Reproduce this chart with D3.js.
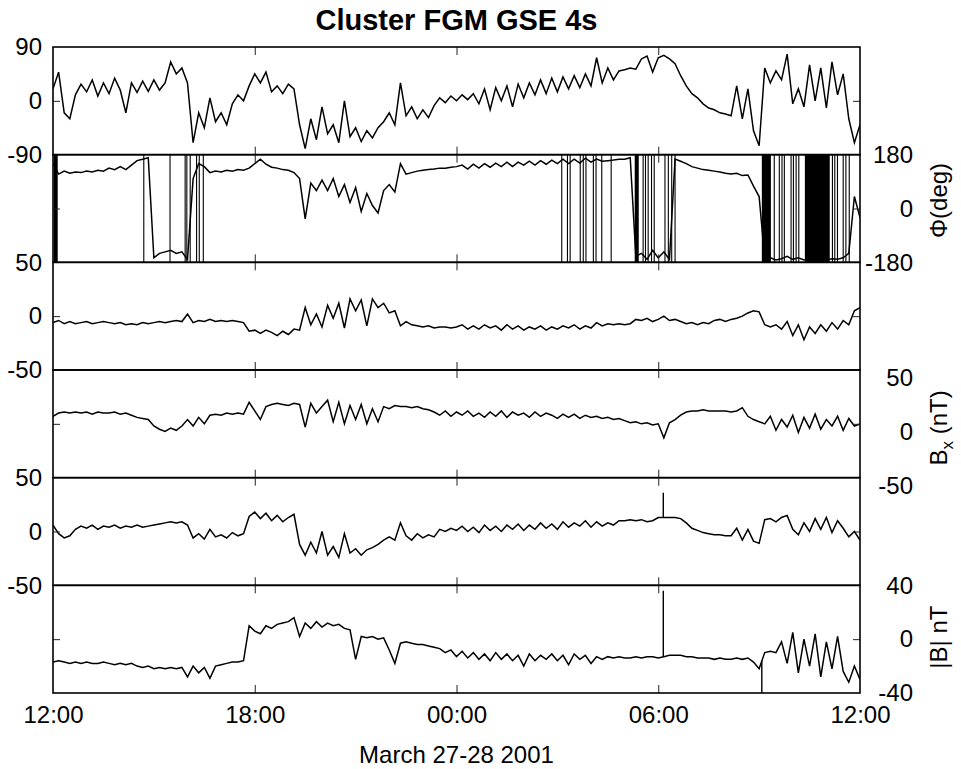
<!DOCTYPE html>
<html>
<head>
<meta charset="utf-8">
<script src="https://cdnjs.cloudflare.com/ajax/libs/d3/7.8.5/d3.min.js"></script>
<style>
  body { margin: 0; background: #fff; }
  svg text { font-family: "Liberation Sans", Arial, Helvetica, sans-serif; fill: #000; }
</style>
</head>
<body>
<svg id="chart" width="961" height="769"></svg>
<script>
// Hours after 12:00 on March 27, one sample every 10 minutes (145 samples)
var step = 1 / 6;

var hourTicks = [0, 6, 12, 18, 24];
var hourLabels = ["12:00", "18:00", "00:00", "06:00", "12:00"];

// Theta (deg)
var theta = [20, 48, -20, -30, 10, 28, 15, 35, 8, 30,
  12, 38, 18, -20, 30, 14, 33, 16, 35, 18,
  30, 65, 45, 55, 30, -70, -20, -45, 5, -35,
  -20, -40, -5, 10, 0, 25, 45, 30, 48, 15,
  25, 12, 28, 20, -40, -80, -30, -65, -10, -55,
  -40, -70, 0, -60, -45, -68, -50, -62, -45, -35,
  -20, -40, 30, -25, -10, -30, -15, -28, -8, 5,
  -3, 8, 0, 10, 2, 12, -5, 20, -15, 22,
  0, 25, -10, 28, 5, 30, 10, 35, 12, 38,
  15, 40, 20, 42, 22, 45, 25, 72, 30, 55,
  35, 50, 52, 55, 53, 70, 75, 48, 72, 76,
  70, 62, 42, 25, 12, 5, -5, -12, -15, -20,
  -22, -25, 25, -30, 20, -50, -75, 55, 30, 50,
  35, 78, -5, 20, -10, 60, 0, 55, -12, 65,
  10, 45, -30, -70, -40];

// Phi (deg)
var phi = [150, 115, 125, 118, 122, 120, 125, 122, 128, 125,
  135, 130, 140, 130, 145, 160, 165, 170, -165, -150,
  -145, -140, -150, -145, -170, 100, 150, 140, 120, 125,
  122, 128, 125, 130, 128, 135, 150, 165, 148, 138,
  135, 130, 128, 120, 100, -35, 85, 60, 95, 60,
  100, 40, 80, 20, 70, -10, 50, 10, -15, 60,
  80, 55, 150, 115, 120, 125, 128, 130, 132, 135,
  135, 138, 140, 145, 132, 148, 135, 150, 138, 152,
  140, 155, 140, 155, 145, 158, 145, 160, 148, 162,
  150, 165, 150, 165, 152, 168, 155, 165, 158, 160,
  162, 165, 165, 170, -160, -150, -170, -140, -165, -145,
  -170, 165, 158, 150, 140, 135, 130, 128, 125, 122,
  118, 115, 118, 110, 112, 75, 40, -170, -165, -172,
  -168, -160, -170, -165, -172, -168, -170, -165, -172, -168,
  -170, -165, -150, 40, -30];
// Phi jumps between +180 and -180 (hours)
var phiWraps = [2.70, 3.48, 3.93, 3.98, 4.08, 4.27, 4.35, 4.47,
  15.13, 15.3, 15.38, 15.68, 15.77, 15.85, 16.07, 16.15, 16.32, 16.6,
  17.55, 17.62, 17.7, 17.8, 17.88, 18.2, 18.3, 18.4, 18.5,
  21.45, 21.6, 21.68, 21.75, 21.95, 22.02, 22.1, 22.18,
  23.18, 23.25, 23.33, 23.5, 23.58, 23.68];
var phiWrapBands = [[0.02, 0.14], [17.3, 17.42], [21.08, 21.35], [22.36, 23.1]];

// Field components (nT)
var bx = [-6, -4, -7, -5, -7, -6, -5, -7, -6, -5,
  -6, -7, -6, -8, -7, -8, -6, -7, -6, -5,
  -6, -5, -4, -5, 2, -6, -4, -5, -3, -5,
  -4, -5, -4, -5, -6, -14, -13, -16, -13, -15,
  -18, -14, -17, -12, -13, 8, -8, 2, -10, 10,
  -2, 12, -11, 16, 5, 15, -9, 16, 8, 12,
  3, 5, -9, -5, -8, -9, -10, -9, -11, -10,
  -10, -11, -10, -8, -12, -9, -12, -8, -11, -9,
  -13, -8, -12, -9, -13, -10, -12, -9, -13, -10,
  -12, -9, -11, -8, -12, -9, -11, -6, -9, -7,
  -8, -7, -8, -7, -3, -4, -2, -5, -3, 0,
  -4, -3, -5, -7, -6, -8, -6, -7, -4, -3,
  -5, -3, -2, 0, 3, 5, 4, -8, -10, -8,
  -12, -5, -18, -8, -22, -10, -16, -8, -14, -6,
  -12, -4, -8, 5, 8];

var by = [7, 10, 11, 10, 11, 10, 11, 9, 11, 10,
  10, 11, 9, 10, 8, 6, 5, 4, -2, -5,
  -7, -4, -6, -2, 4, -2, 6, 0, 8, 9,
  8, 10, 9, 10, 9, 20, 12, 4, 16, 18,
  19, 18, 17, 19, 18, -3, 19, 10, 16, 22,
  2, 20, 0, 17, 4, 18, 0, 14, 2, 16,
  14, 17, 16, 16, 15, 16, 14, 13, 11, 8,
  12, 7, 11, 8, 12, 7, 10, 6, 11, 7,
  12, 6, 11, 8, 10, 6, 11, 7, 10, 8,
  5, 9, 6, 9, 5, 8, 6, 7, 5, 6,
  4, 5, 3, 1, 2, 0, 1, -1, 0, -13,
  1, 4, 8, 11, 12, 12, 13, 12, 12, 12,
  12, 11, 12, 15, 7, 4, 2, 0, 7, -6,
  4, -3, 8, -8, 6, -4, 9, -5, 4, -2,
  7, -6, 5, -2, 0];

var bz = [6, -2, -6, -4, 2, 5, 3, 6, 2, 5,
  4, 6, 3, 5, 4, 6, 4, 5, 6, 7,
  8, 9, 8, 9, 6, -6, -2, -7, 2, -5,
  -3, -6, -1, -4, -2, 14, 18, 12, 17, 10,
  15, 9, 13, 16, -12, -22, -10, -20, 0, -22,
  -14, -24, -2, -20, -16, -22, -17, -15, -12, -8,
  -5, -8, 8, -4, -8, -2, -6, -3, -5, 2,
  0, 3, 1, 5, 0, 4, -1, 6, 1, 5,
  0, 6, 2, 7, 1, 6, 2, 8, 3, 7,
  2, 9, 4, 8, 5, 10, 4, 9, 5, 8,
  6, 10, 10, 11, 10, 11, 9, 10, 13, 13,
  13, 13, 12, 8, 3, 1, -1, -2, -3, -3,
  -4, -4, 3, -8, 2, -9, -11, 11, 12, 9,
  13, 15, 2, -3, 8, 0, 12, 2, 13, -1,
  10, 3, -5, 0, -8];

var btot = [-17, -16, -17, -18, -17, -18, -17, -18, -18, -17,
  -18, -19, -18, -19, -18, -20, -21, -20, -22, -21,
  -22, -21, -22, -21, -28, -20, -25, -21, -29, -20,
  -19, -18, -17, -17, -16, 10, 6, 4, 10, 8,
  11, 12, 13, 16, 2, 12, 8, 13, 9, 12,
  10, 11, 8, 7, -15, 2, 1, 2, 0, 1,
  -8, -18, -3, -2, -3, -4, -4, -5, -6, -7,
  -10, -8, -13, -9, -14, -10, -15, -11, -16, -10,
  -15, -11, -16, -12, -20, -11, -16, -12, -15, -11,
  -16, -12, -19, -11, -15, -12, -18, -13, -15, -13,
  -14, -13, -14, -14, -13, -14, -13, -13, -14, -13,
  -12, -12, -12, -13, -13, -14, -14, -14, -15, -14,
  -15, -15, -14, -15, -14, -17, -22, -10, -9, -10,
  -2, -18, 5, -25, 0, -20, 4, -28, -2, -22,
  2, -24, -32, -20, -30];

// Narrow spikes: [hour, from, to]
var bzSpikes = [[18.15, 13, 36]];
var btotSpikes = [[18.15, -13, 36], [21.08, -16, -40]];

// Panel setup (top to bottom)
var panels = [
  { series: theta, domain: [-90, 90], left: [-90, 0, 90], right: null, spikes: [] },
  { series: phi, domain: [-180, 180], left: null, right: [-180, 0, 180], spikes: [],
    title: "Φ(deg)", titleShift: -8 },
  { series: bx, domain: [-50, 50], left: [-50, 0, 50], right: null, spikes: [] },
  { series: by, domain: [-50, 50], left: null, right: [-50, 0, 50], spikes: [],
    title: "Bx (nT)", titleShift: 4, labelShift: 8 },
  { series: bz, domain: [-50, 50], left: [-50, 0, 50], right: null, spikes: bzSpikes },
  { series: btot, domain: [-40, 40], left: null, right: [-40, 0, 40], spikes: btotSpikes,
    title: "|B| nT", titleShift: -2 }
];

var margin = { left: 53, right: 101, top: 47, bottom: 76 };
var width = 961 - margin.left - margin.right;
var plotTop = margin.top, plotBottom = 769 - margin.bottom;
var panelH = (plotBottom - plotTop) / panels.length;
var fontSize = 24;
// plain hyphen for negative numbers, as in the original plot
var numFormat = function(d) { return String(d); };

var svg = d3.select('#chart');
var x = d3.scaleLinear().domain([0, 24]).range([margin.left, margin.left + width]);

function styleAxis(a) {
  a.select('.domain').remove();
  a.attr('font-size', fontSize).attr('font-family', '"Liberation Sans", Arial, sans-serif');
  a.selectAll('.tick line').attr('stroke', '#222').attr('stroke-width', 1);
}

panels.forEach(function(p, i) {
  var top = plotTop + i * panelH;
  var y = d3.scaleLinear().domain(p.domain).range([top + panelH, top]);
  var g = svg.append('g').attr('class', 'panel');

  svg.append('clipPath').attr('id', 'clip' + i).append('rect')
    .attr('x', x(0)).attr('y', top).attr('width', x(24) - x(0)).attr('height', panelH);
  var plot = g.append('g').attr('clip-path', 'url(#clip' + i + ')');

  // Phi wrap-around lines
  if (p.series === phi) {
    plot.selectAll('rect.wrapband').data(phiWrapBands).enter().append('rect')
      .attr('class', 'wrapband')
      .attr('x', function(d) { return x(d[0]); })
      .attr('width', function(d) { return x(d[1]) - x(d[0]); })
      .attr('y', y(180)).attr('height', y(-180) - y(180))
      .attr('fill', '#000');
    plot.selectAll('line.wrap').data(phiWraps).enter().append('line')
      .attr('class', 'wrap')
      .attr('x1', function(d) { return x(d); }).attr('x2', function(d) { return x(d); })
      .attr('y1', y(-180)).attr('y2', y(180))
      .attr('stroke', '#000').attr('stroke-width', 1.1);
  }

  var line = d3.line()
    .x(function(d, k) { return x(k * step); })
    .y(function(d) { return y(d); });
  plot.append('path').datum(p.series)
    .attr('d', line)
    .attr('fill', 'none').attr('stroke', '#000')
    .attr('stroke-width', 1.5).attr('stroke-linejoin', 'miter');

  plot.selectAll('line.spike').data(p.spikes).enter().append('line')
    .attr('class', 'spike')
    .attr('x1', function(d) { return x(d[0]); }).attr('x2', function(d) { return x(d[0]); })
    .attr('y1', function(d) { return y(d[1]); }).attr('y2', function(d) { return y(d[2]); })
    .attr('stroke', '#000').attr('stroke-width', 1.4);

  // Time ticks on top and bottom edges, pointing inwards
  var inner = hourTicks.slice(1, -1);
  g.append('g').attr('transform', 'translate(0,' + top + ')')
    .call(d3.axisBottom(x).tickValues(inner).tickSize(8).tickFormat(''))
    .call(styleAxis);
  g.append('g').attr('transform', 'translate(0,' + (top + panelH) + ')')
    .call(d3.axisTop(x).tickValues(inner).tickSize(8).tickFormat(''))
    .call(styleAxis);

  // Small inward tick at the middle value on both sides
  var mid = (p.domain[0] + p.domain[1]) / 2;
  g.append('g').attr('transform', 'translate(' + x(0) + ',0)')
    .call(d3.axisRight(y).tickValues([mid]).tickSize(7).tickFormat(''))
    .call(styleAxis);
  g.append('g').attr('transform', 'translate(' + x(24) + ',0)')
    .call(d3.axisLeft(y).tickValues([mid]).tickSize(7).tickFormat(''))
    .call(styleAxis);

  if (p.left) {
    g.append('g').attr('transform', 'translate(' + x(0) + ',0)')
      .call(d3.axisLeft(y).tickValues(p.left).tickSize(0).tickPadding(11).tickFormat(numFormat))
      .call(styleAxis);
  }
  if (p.right) {
    var shift = p.labelShift || 0;
    var yr = y.copy().range([top + panelH + shift, top + shift]);
    var ra = g.append('g').attr('transform', 'translate(' + x(24) + ',0)')
      .call(d3.axisRight(yr).tickValues(p.right).tickSize(0).tickPadding(53).tickFormat(numFormat))
      .call(styleAxis);
    ra.selectAll('text').attr('text-anchor', 'end');
  }

  if (p.title) {
    var t = svg.append('text')
      .attr('transform', 'translate(947,' + (top + panelH / 2 + p.titleShift) + ') rotate(-90)')
      .attr('text-anchor', 'middle')
      .attr('font-size', fontSize);
    if (p.title === "Bx (nT)") {
      t.append('tspan').text('B');
      t.append('tspan').attr('dy', 6).attr('font-size', 17).text('x');
      t.append('tspan').attr('dy', -6).text(' (nT)');
    } else {
      t.text(p.title);
    }
  }

  g.append('rect')
    .attr('x', x(0)).attr('y', top)
    .attr('width', x(24) - x(0)).attr('height', panelH)
    .attr('fill', 'none').attr('stroke', '#000').attr('stroke-width', 1.6);
});

// Bottom time labels
svg.append('g').attr('transform', 'translate(0,' + plotBottom + ')')
  .call(d3.axisBottom(x).tickValues(hourTicks).tickSize(0).tickPadding(13)
    .tickFormat(function(d, k) { return hourLabels[k]; }))
  .call(styleAxis);

svg.append('text')
  .attr('x', x(12)).attr('y', 763)
  .attr('text-anchor', 'middle').attr('font-size', fontSize)
  .text('March 27-28 2001');

svg.append('text')
  .attr('x', x(12)).attr('y', 30)
  .attr('text-anchor', 'middle').attr('font-size', 29).attr('font-weight', 'bold')
  .text('Cluster FGM GSE 4s');
</script>
</body>
</html>
